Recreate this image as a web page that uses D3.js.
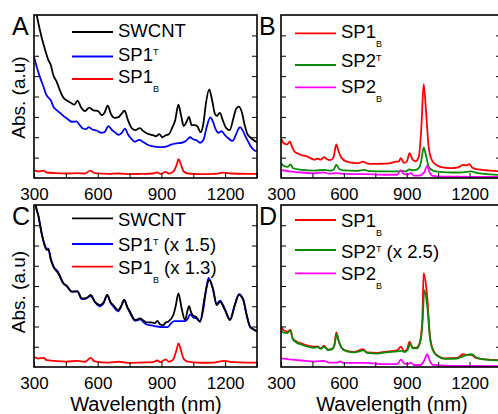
<!DOCTYPE html>
<html>
<head>
<meta charset="utf-8">
<script src="https://cdn.jsdelivr.net/npm/d3@7"></script>
<style>
  body { margin: 0; background: #fff; }
  svg { display: block; font-family: "Liberation Sans", Arial, sans-serif; }
</style>
</head>
<body>
<div id="chart"></div>
<script>
// ---- data: [wavelength nm, absorbance a.u.] ----
const swcntA = [[300,8.8],[313,8.0],[328,7.25],[341,6.7],[352,6.3],[367,5.8],[379,5.55],[391,5.05],[407,4.72],[422,4.3],[438,3.95],[455,3.8],[475,3.68],[490,3.6],[505,3.8],[520,3.5],[540,3.28],[560,3.45],[580,3.32],[600,3.3],[620,3.08],[632,3.2],[647,3.55],[662,3.15],[680,2.95],[700,3.0],[712,3.15],[727,3.3],[742,2.85],[760,2.45],[778,2.35],[798,2.45],[815,2.3],[840,2.15],[860,2.1],[875,2.05],[890,2.15],[905,2.0],[920,2.1],[935,2.15],[950,2.45],[965,2.85],[980,3.6],[993,3.05],[1005,2.55],[1018,2.75],[1030,3.0],[1042,2.6],[1055,2.6],[1068,2.55],[1085,2.25],[1098,2.7],[1110,3.7],[1125,4.35],[1138,3.85],[1152,3.15],[1162,3.05],[1175,3.2],[1190,2.8],[1205,2.45],[1222,2.35],[1238,2.9],[1252,3.4],[1265,3.5],[1278,3.25],[1292,2.6],[1305,2.15],[1318,2.0],[1335,1.85],[1350,1.75]];
const sp1tA = [[300,5.95],[313,5.45],[328,4.95],[344,4.5],[357,4.1],[367,3.95],[380,3.8],[391,3.5],[407,3.33],[422,3.2],[438,3.05],[455,2.92],[478,2.76],[500,2.78],[515,2.6],[530,2.43],[545,2.4],[558,2.5],[575,2.38],[595,2.33],[615,2.22],[632,2.25],[650,2.55],[665,2.38],[680,2.25],[698,2.12],[712,2.2],[728,2.42],[742,2.15],[756,1.95],[775,1.78],[795,1.87],[812,1.78],[830,1.66],[855,1.57],[880,1.53],[905,1.52],[925,1.55],[945,1.64],[970,1.7],[995,1.73],[1015,1.82],[1035,2.0],[1050,1.9],[1065,1.85],[1082,1.73],[1098,1.88],[1113,2.5],[1130,2.98],[1143,2.75],[1155,2.4],[1168,2.22],[1183,2.3],[1198,2.12],[1215,1.95],[1235,1.82],[1250,2.1],[1262,2.4],[1270,2.5],[1284,2.3],[1300,1.95],[1318,1.6],[1335,1.38],[1350,1.3]];
const sp1bA = [[300,0.38],[320,0.32],[345,0.36],[360,0.27],[400,0.24],[450,0.22],[505,0.24],[540,0.22],[565,0.36],[585,0.24],[650,0.2],[700,0.22],[750,0.19],[800,0.2],[860,0.22],[880,0.28],[895,0.2],[920,0.3],[935,0.22],[955,0.3],[970,0.6],[981,0.92],[992,0.65],[1005,0.32],[1025,0.22],[1080,0.19],[1150,0.2],[1190,0.26],[1230,0.22],[1300,0.2],[1350,0.2]];

const sp1bB = [[300,1.95],[312,1.72],[330,1.65],[343,1.8],[352,1.55],[364,1.3],[380,1.2],[395,1.13],[427,1.05],[445,0.95],[460,0.9],[475,0.95],[490,0.9],[505,1.02],[520,0.92],[535,0.88],[550,1.0],[564,1.65],[575,1.3],[588,1.0],[614,0.8],[640,0.75],[665,0.72],[692,0.8],[710,0.72],[740,0.69],[780,0.7],[817,0.72],[850,0.8],[862,0.82],[872,0.97],[887,0.74],[900,0.8],[914,1.22],[927,0.92],[942,0.82],[958,1.05],[970,2.5],[981,4.6],[992,3.3],[1005,1.5],[1020,0.88],[1040,0.65],[1060,0.55],[1110,0.48],[1145,0.52],[1170,0.64],[1185,0.62],[1198,0.68],[1212,0.52],[1240,0.42],[1280,0.38],[1320,0.35],[1350,0.32]];
const sp2tB = [[300,0.72],[315,0.58],[333,0.55],[345,0.67],[358,0.48],[400,0.4],[458,0.36],[510,0.4],[535,0.36],[552,0.42],[564,0.65],[578,0.44],[600,0.37],[660,0.35],[700,0.4],[720,0.34],[800,0.33],[860,0.33],[880,0.35],[895,0.32],[912,0.42],[925,0.38],[945,0.4],[962,0.55],[972,1.0],[981,1.5],[992,1.1],[1005,0.55],[1025,0.36],[1060,0.3],[1120,0.27],[1170,0.28],[1205,0.33],[1240,0.24],[1300,0.18],[1350,0.14]];
const sp2bB = [[300,0.38],[340,0.33],[400,0.27],[460,0.23],[505,0.28],[530,0.21],[567,0.24],[600,0.2],[700,0.19],[800,0.16],[855,0.16],[872,0.39],[885,0.2],[905,0.17],[920,0.24],[935,0.12],[960,0.12],[985,0.3],[997,0.6],[1008,0.3],[1025,0.1],[1080,0.07],[1200,0.06],[1350,0.05]];

const swcntC = [[300,8.8],[310,7.9],[320,7.5],[336,6.6],[350,6.0],[360,5.78],[368,5.8],[378,5.35],[391,4.95],[414,4.63],[438,4.13],[454,4.0],[478,3.72],[504,3.75],[525,3.39],[545,3.4],[567,3.56],[587,3.22],[611,3.06],[628,3.2],[645,3.56],[660,3.2],[673,3.06],[697,2.81],[710,3.0],[725,3.31],[740,2.95],[752,2.73],[776,2.32],[800,2.4],[815,2.3],[831,2.2],[855,2.2],[870,2.16],[880,2.28],[895,2.1],[909,2.07],[920,2.2],[932,2.24],[956,2.57],[967,3.0],[980,3.64],[995,2.9],[1011,2.32],[1022,2.75],[1030,3.01],[1040,2.7],[1047,2.57],[1065,2.45],[1082,2.24],[1100,3.22],[1112,3.9],[1125,4.3],[1144,3.8],[1160,3.06],[1176,3.22],[1199,2.81],[1223,2.32],[1246,3.06],[1265,3.56],[1285,3.31],[1301,2.57],[1317,1.99],[1335,1.85],[1350,1.75]];
const sp1tC = [[300,8.8],[310,7.9],[320,7.5],[336,6.6],[350,6.05],[360,5.85],[368,5.85],[378,5.4],[391,5.0],[414,4.68],[438,4.15],[454,4.0],[478,3.72],[504,3.72],[525,3.35],[545,3.38],[567,3.5],[587,3.2],[611,3.0],[628,3.15],[645,3.56],[660,3.18],[673,3.0],[697,2.75],[710,2.98],[725,3.31],[740,2.92],[752,2.68],[776,2.28],[800,2.35],[815,2.22],[831,2.1],[855,2.05],[880,2.0],[909,1.97],[930,1.97],[945,2.15],[960,2.27],[985,2.27],[1010,2.27],[1022,2.35],[1035,2.6],[1050,2.45],[1065,2.4],[1082,2.24],[1098,2.9],[1110,3.8],[1122,4.4],[1140,3.95],[1160,3.12],[1176,3.28],[1199,2.85],[1223,2.35],[1246,3.1],[1265,3.6],[1285,3.35],[1301,2.6],[1317,2.0],[1335,1.85],[1350,1.75]];
const sp1bC = [[300,0.51],[320,0.42],[345,0.45],[360,0.34],[400,0.3],[450,0.27],[505,0.3],[540,0.26],[567,0.45],[585,0.28],[650,0.22],[700,0.26],[750,0.2],[800,0.22],[860,0.24],[880,0.32],[895,0.24],[920,0.38],[935,0.26],[955,0.36],[970,0.8],[981,1.17],[992,0.82],[1005,0.4],[1025,0.26],[1080,0.21],[1150,0.22],[1195,0.3],[1240,0.24],[1300,0.22],[1350,0.22]];

const sp1bD = [[300,1.99],[312,1.82],[330,1.75],[345,1.83],[356,1.42],[375,1.25],[400,1.15],[430,1.05],[458,1.0],[475,1.02],[490,0.92],[505,1.05],[525,0.86],[545,0.9],[555,1.1],[564,1.71],[575,1.3],[590,0.95],[614,0.8],[650,0.75],[692,0.88],[710,0.72],[760,0.7],[800,0.76],[840,0.8],[856,0.84],[872,1.0],[887,0.78],[900,0.84],[914,1.25],[927,0.95],[945,0.95],[962,1.2],[974,2.24],[981,4.63],[997,3.56],[1012,1.42],[1030,0.76],[1050,0.55],[1083,0.43],[1140,0.45],[1169,0.63],[1185,0.6],[1208,0.6],[1230,0.45],[1280,0.38],[1350,0.33]];
const sp2tD = [[300,1.83],[312,1.7],[330,1.68],[345,1.8],[356,1.38],[375,1.2],[400,1.1],[430,1.0],[458,0.95],[475,0.98],[490,0.9],[505,1.0],[525,0.84],[545,0.88],[555,1.08],[566,1.61],[577,1.25],[590,0.92],[614,0.77],[650,0.72],[695,0.82],[710,0.7],[760,0.66],[800,0.72],[840,0.76],[860,0.78],[875,0.8],[890,0.74],[905,0.85],[917,1.17],[930,0.92],[948,0.92],[965,1.25],[976,2.3],[984,3.8],[998,3.0],[1012,1.35],[1030,0.72],[1050,0.52],[1083,0.4],[1140,0.42],[1175,0.55],[1210,0.63],[1235,0.45],[1280,0.36],[1350,0.32]];
const sp2bD = [[300,0.43],[340,0.38],[400,0.32],[460,0.27],[505,0.3],[530,0.22],[570,0.22],[582,0.28],[600,0.2],[700,0.2],[800,0.14],[855,0.14],[872,0.36],[888,0.18],[905,0.15],[920,0.22],[935,0.1],[965,0.1],[985,0.35],[998,0.63],[1010,0.3],[1025,0.1],[1080,0.07],[1200,0.05],[1350,0.04]];

const xTicks = [300, 450, 600, 750, 900, 1050, 1200, 1350];
const xLabels = [300, 600, 900, 1200];
const yTicks = [1, 2, 3, 4, 5, 6, 7];

const RED = "#ff0000", BLUE = "#0000ff", BLACK = "#000", GREEN = "#0a8a0a", MAG = "#ff00ff";

const W = 498, H = 414;
const svg = d3.select("#chart").append("svg").attr("width", W).attr("height", H);

// panels: box, series, legend rows (name, sup/sub, suffix, colour, line y, text baseline)
const panels = [
  { label: "A", box: [34, 257, 15, 178], lx: 72, tx: 118,
    series: [[swcntA, BLACK], [sp1tA, BLUE], [sp1bA, RED]],
    legend: [["SWCNT", null, "", BLACK, 32, 37.3], ["SP1", "T", "", BLUE, 56.5, 60.7], ["SP1", "B", "", RED, 79, 82.7]] },
  { label: "B", box: [281, 501, 15, 178], lx: 295, tx: 341,
    series: [[sp1bB, RED], [sp2tB, GREEN], [sp2bB, MAG]],
    legend: [["SP1", "B", "", RED, 33.3, 38.3], ["SP2", "T", "", GREEN, 65, 66.7], ["SP2", "B", "", MAG, 87.3, 93]] },
  { label: "C", box: [34, 257, 205, 367], lx: 72, tx: 118,
    series: [[sp1tC, BLUE], [swcntC, BLACK], [sp1bC, RED]],
    legend: [["SWCNT", null, "", BLACK, 218.3, 225.7], ["SP1", "T", " (x 1.5)", BLUE, 244, 251], ["SP1", "B", " (x 1.3)", RED, 266.7, 274]] },
  { label: "D", box: [281, 501, 205, 367], lx: 295, tx: 341,
    series: [[sp1bD, RED], [sp2tD, GREEN], [sp2bD, MAG]],
    legend: [["SP1", "B", "", RED, 220, 227], ["SP2", "T", " (x 2.5)", GREEN, 250, 258], ["SP2", "B", "", MAG, 273.3, 280]] }
];

panels.forEach((p, i) => {
  const [x0, x1, y0, y1] = p.box;
  const x = d3.scaleLinear().domain([300, 1350]).range([x0, x1]);
  const y = d3.scaleLinear().domain([0, 8]).range([y1, y0]);
  const g = svg.append("g");

  svg.append("clipPath").attr("id", "clip" + i)
    .append("rect").attr("x", x0).attr("y", y0).attr("width", x1 - x0).attr("height", y1 - y0);

  const line = d3.line()
    .x(d => x(d[0]))
    .y(d => y(d[1]))
    .curve(d3.curveMonotoneX);

  g.append("g").attr("clip-path", `url(#clip${i})`)
    .selectAll("path").data(p.series).enter().append("path")
    .attr("d", d => line(d[0]))
    .attr("fill", "none")
    .attr("stroke", d => d[1])
    .attr("stroke-width", 1.8)
    .attr("stroke-linejoin", "round");

  // axes, ticks pointing inward
  const xAxis = d3.axisBottom(x).tickValues(xTicks).tickSizeInner(-5).tickSizeOuter(0).tickPadding(10)
    .tickFormat(d => xLabels.includes(d) ? d : "");
  g.append("g").attr("transform", `translate(0,${y1})`).call(xAxis);
  g.append("g").attr("transform", `translate(${x0},0)`)
    .call(d3.axisLeft(y).tickValues(yTicks).tickSizeInner(-5).tickSizeOuter(0).tickFormat(""));
  g.append("g").attr("transform", `translate(${x1},0)`)
    .call(d3.axisRight(y).tickValues(yTicks).tickSizeInner(-5).tickSizeOuter(0).tickFormat(""));
  g.selectAll(".domain").remove();
  g.selectAll(".tick line").attr("stroke", "#000").attr("stroke-width", 1);
  g.selectAll(".tick text").attr("font-size", 17).attr("font-family", "Liberation Sans, Arial, sans-serif").attr("fill", "#000");

  g.append("rect").attr("x", x0).attr("y", y0).attr("width", x1 - x0).attr("height", y1 - y0)
    .attr("fill", "none").attr("stroke", "#000").attr("stroke-width", 1.6);

  // legend
  p.legend.forEach(([name, mark, suffix, color, ly, ty]) => {
    g.append("line").attr("x1", p.lx).attr("x2", p.lx + 41).attr("y1", ly).attr("y2", ly)
      .attr("stroke", color).attr("stroke-width", 1.8);
    const t = g.append("text").attr("x", p.tx).attr("y", ty).attr("font-size", 18.5).attr("fill", "#000");
    t.append("tspan").text(name);
    if (mark === "T") {
      t.append("tspan").attr("font-size", 9).attr("dy", -6).text("T");
      if (suffix) t.append("tspan").attr("dy", 6).text(suffix);
    } else if (mark === "B") {
      t.append("tspan").attr("font-size", 9).attr("dy", 9).text("B");
      if (suffix) t.append("tspan").attr("dy", -9).text(suffix);
    }
  });

  svg.append("text").attr("x", x0 - 22).attr("y", y0 + 20).attr("font-size", 25).text(p.label);
});

// axis titles
[97.5, 292].forEach(cy => {
  svg.append("text").attr("transform", `translate(25,${cy}) rotate(-90)`)
    .attr("text-anchor", "middle").attr("font-size", 19).text("Abs. (a.u)");
});
[146, 392].forEach(cx => {
  svg.append("text").attr("x", cx).attr("y", 411).attr("text-anchor", "middle")
    .attr("font-size", 20).text("Wavelength (nm)");
});
</script>
</body>
</html>
